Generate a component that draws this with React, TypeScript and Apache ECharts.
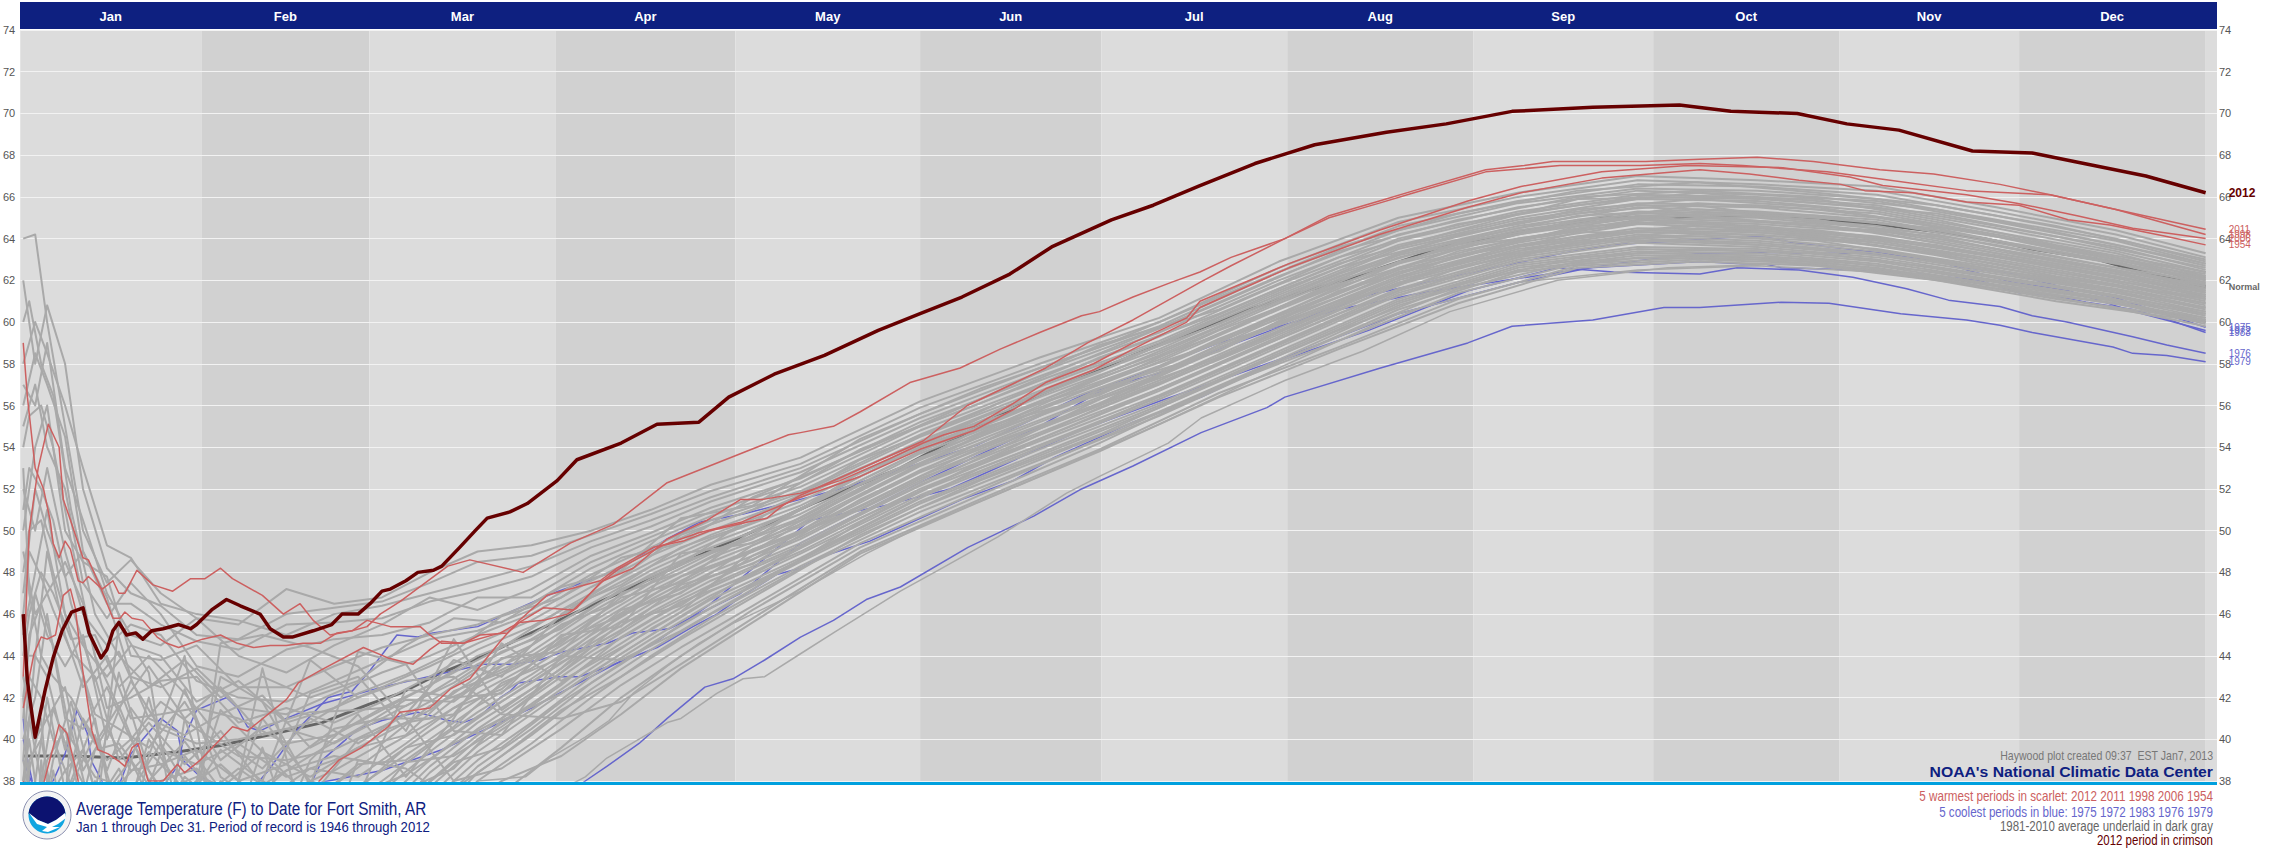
import React, { useEffect, useRef } from "react";
import * as echarts from "echarts";

const months = ["Jan","Feb","Mar","Apr","May","Jun","Jul","Aug","Sep","Oct","Nov","Dec"];
// Month band edges in day-of-year units, as drawn in the picture
const monthEdges = [-0.5,29.8,57.9,89.0,119.1,150,180.3,211.4,242.5,272.6,303.7,333.8,364.9];
const X_MIN = -0.5, X_MAX = 366.9;
const yTicks = { min: 38, max: 74, step: 2 };

const normalAvg = [[0,39.2],[8,39.2],[17,39.1],[26,39.4],[33,39.7],[41,40.2],[50,40.8],[58,41.7],[63,42.2],[70,43.2],[77,44],[85,45.1],[92.6,46.1],[102,47.3],[113,48.8],[121.6,49.9],[132,51.3],[146.7,53],[154.5,54.2],[169,56.4],[185.6,58.4],[204,60.5],[213.5,61.4],[222,62.1],[238.6,63.7],[264,65],[279,65],[294,65.1],[300,64.9],[311,64.65],[319.5,64.35],[328,64],[336,63.5],[347,63],[353,62.5],[365,61.7]];

const crimson2012 = [[0,46],[0.7,42.8],[2,40.1],[3.7,42.4],[5,43.9],[6.5,45.2],[8.1,46.1],[10,46.3],[11,45.1],[13,43.9],[14,44.3],[15,45.2],[16,45.6],[17.3,45],[18.8,45.1],[20,44.8],[21.5,45.2],[23.4,45.3],[26,45.5],[28,45.3],[29,45.5],[31.5,46.2],[34,46.7],[36.3,46.4],[39.6,46],[41.3,45.3],[43.5,44.9],[45,44.9],[48.5,45.2],[51.6,45.5],[53.3,46],[56,46],[58,46.5],[60,47.1],[61.4,47.2],[64,47.6],[66,48],[68.6,48.1],[70,48.3],[73,49.2],[75.6,50],[77.6,50.6],[81.4,50.9],[84.3,51.3],[89.3,52.4],[92.6,53.4],[100,54.2],[106,55.1],[113,55.2],[118,56.4],[125.6,57.5],[134,58.4],[143,59.6],[150,60.4],[157,61.2],[165,62.3],[172,63.6],[182,64.9],[189,65.6],[196.5,66.5],[206,67.6],[216,68.5],[228,69.1],[238,69.5],[249,70.1],[262.5,70.3],[277,70.4],[285.6,70.1],[296.7,70],[305,69.5],[313.7,69.2],[326,68.2],[336,68.1],[343,67.7],[355,67],[365,66.2]];

const red2011 = [[0,43],[1,50],[2.5,53],[4.2,55.1],[6,54],[6.7,51.5],[7.9,50.5],[10,48.7],[10.9,48.6],[12.9,47.3],[15,45.8],[16.2,45.8],[17,46.1],[18.2,45.8],[20,45.7],[22.4,44.9],[24,44.6],[26,44.4],[28,44.6],[30,44.8],[33,45],[35.8,44.6],[38.5,44.4],[41.3,44.5],[44,44.5],[46.8,44.6],[49.7,44.6],[52.5,45.1],[55,45.2],[57.5,45.4],[59.7,46],[63,46.6],[71,48.3],[74.7,48.6],[83.6,48],[91.5,49.4],[98.7,50.3],[107.7,52.3],[128,54.6],[130,54.7],[135.5,55],[140,55.7],[148.3,57.1],[156.7,57.8],[163.4,58.7],[170,59.5],[177,60.3],[180,60.5],[185.6,61.2],[192,61.9],[196.8,62.4],[202,63.1],[211,64],[218.4,65.1],[226.8,65.8],[232.6,66.3],[244.6,67.3],[251,67.5],[255.8,67.7],[271.4,67.7],[280.4,67.8],[290,67.9],[299.4,67.7],[310.5,67.3],[319.5,67.1],[330.6,66.6],[339,66.1],[350,65.4],[365,64.45]];
const red1998 = [[0,38],[1,34],[2,36],[3.7,38.2],[6,40.7],[7.3,40.3],[8.7,38.7],[9.2,38],[12,35],[30,33],[49,37.5],[49.5,38],[52.8,39],[56.6,39.6],[61,40.6],[63,41.3],[68,41.5],[71.4,42.4],[74.7,42.9],[79.8,44.7],[82.6,45.6],[87.6,46.9],[96.5,47.6],[99.3,48.2],[105.4,49.2],[110.4,49.5],[114.9,50],[121,50.4],[124.4,50.6],[127,51.2],[130,51.7],[150.5,54.3],[157.9,56],[164.5,56.9],[171,57.8],[178,59],[185.6,60.1],[196.8,61.9],[202,62.7],[211,64],[218.4,65],[226.8,65.7],[232.6,66.2],[244.6,67.2],[257,67.5],[270.4,67.5],[280.4,67.6],[287.6,67.5],[301.7,67.2],[311,66.85],[325,66.3],[339,66.1],[350,65.4],[365,64.2]];
const red2006 = [[0,41.5],[1.8,44.1],[3,44.9],[4,44.8],[5.4,45],[6.7,46.9],[7.9,47.2],[8.7,46.3],[9.9,43.4],[11.5,40.4],[12.5,39.5],[14.2,39.3],[16.2,38.9],[17,38.7],[18.2,39.6],[19.2,39.8],[20.9,38],[23.4,38],[25.8,38.8],[27,38.4],[29.6,39],[35,40.6],[37.5,40.4],[41.8,41.4],[44,41.9],[46,42.7],[49.7,43.3],[56.9,44.4],[61,43.9],[65.2,43.6],[68,44.3],[70,44.7],[73.6,44.6],[79.8,45.1],[83,45.6],[87,46.3],[92,46.2],[97,47.6],[102,48.2],[107.7,49.6],[114.4,50.5],[120,51.5],[123.7,51.5],[130,51.8],[136.6,52.4],[144.5,53.4],[150.5,54.2],[154,54.6],[159,55],[165.6,56.1],[171,57.1],[179,58],[185.6,59],[194.6,60.2],[196.8,61],[211.7,62.8],[226.8,64.4],[241.6,65.8],[250.5,66.5],[264,67.2],[278.3,67.5],[294.3,67.4],[305.5,66.95],[311,66.55],[325,66.1],[333.4,65.7],[343.5,65.1],[352.8,64.5],[365,64]];
const red1954 = [[0,59],[0.7,56.4],[2,53],[3.4,52],[4.5,50.5],[5,49.4],[6,48.7],[7,49.5],[7.9,49.1],[9.2,47.6],[10,47.5],[10.9,47.8],[13.2,47.2],[15,47.6],[16,47],[17,47],[19,48.1],[21.7,47.4],[25,47.1],[28,47.7],[30.4,47.7],[33,48.2],[35,47.7],[40,46.9],[43.5,46],[46.3,46.5],[48.5,45.7],[51.3,45],[55,45.2],[57.5,45.7],[61.4,45.4],[66.4,45.4],[68,45],[70,44.6],[73.6,44.6],[76.4,45],[81,45.1],[83,45.6],[87,45.7],[91,46],[92.6,46.3],[96.5,47.5],[99.8,48.2],[103,48.7],[107,49.3],[113,49.9],[120,50.4],[130,51.6],[140,52.6],[150,53.9],[159,54.8],[165.6,55.8],[171,56.8],[179,57.7],[185.6,58.7],[194.6,60],[196.8,60.7],[211.7,62.6],[226.8,64.2],[241.6,65.5],[250.5,66.2],[264,66.9],[280.4,67.3],[288.7,67.1],[297,66.8],[304,66.6],[308,66.3],[316,66.2],[325,65.75],[333.8,65.6],[342,64.9],[349,64.65],[358.5,64.1],[365,63.7]];

const blue1975 = [[0,38],[20,35],[38,37.5],[41,38.5],[46,40.5],[51,42],[55,42.3],[58,43.3],[62.5,45],[66,44.9],[68.5,45.1],[76,45.4],[81.5,46.1],[88.6,47],[99.3,48.1],[107.7,49.6],[113,50.4],[120.4,50.8],[130,51.5],[136.6,52],[159.5,54.1],[167,55.1],[178,56.6],[193,57.8],[201,58.8],[225,61.3],[246,62.6],[257.4,63.3],[265.5,63.7],[277.4,63.9],[287.6,64.1],[291,64.1],[296,63.8],[305,63.5],[311,63.3],[318.4,63],[325,62.6],[332.8,62.3],[340.6,61.7],[349.5,61.2],[365,59.75]];
const blue1972 = [[0,40],[3,36],[20,36],[24,38],[25.8,38.7],[26.8,40],[29,41.4],[34,42],[35.8,41.5],[37.5,40.6],[39.6,40.4],[44,41],[50,41.7],[60,42.5],[77,43.6],[82,43.6],[86.5,43.8],[90.3,44.2],[97.7,44.6],[102,45.1],[108,45.3],[120,47],[130,49.4],[150,52.3],[170,55],[182,57],[200,59],[220,60.6],[234,61.4],[262,62.6],[269,62.9],[280.4,63.3],[291,63.35],[298,63.3],[307.5,63.3],[318.4,63.1],[325,62.5],[332.8,61.9],[342,61.5],[347,61.05],[353,60.5],[365,59.6]];
const blue1983 = [[0,39],[2,37.5],[5,38],[7,39.3],[9,41.4],[10.7,40.3],[11.5,38.9],[15,37],[18,39.3],[20,40],[23,41],[25.8,40.4],[26.7,39],[29.6,38.2],[35,37.5],[42,37.5],[60,38.5],[70,39.5],[85,41.5],[95,43],[105,44.5],[115,46.5],[131.6,50.5],[144,51.2],[155,52],[176.7,54.8],[190,56.2],[210,58.2],[230,60.4],[250,61.9],[262,62.6],[280.4,62.9],[287.6,62.8],[291,62.8],[294,62.6],[307,62.5],[317,62.3],[327,62],[333.8,61.4],[338.8,61.3],[345,60.95],[352.8,60.6],[359,60.1],[365,59.5]];
const blue1976 = [[0,41],[1,38],[3,36],[6,35],[20,34],[40,33],[50,39],[56,40.5],[60,40.9],[66,41.3],[71,40.9],[73.6,40.8],[76.4,41.1],[79.8,42],[81.4,42.3],[82.8,42.7],[89.8,43],[93,43],[98,43.5],[106,44.4],[112,45.4],[116,46],[120.4,46.9],[126,47.9],[130,48.2],[134,48.8],[141.6,49.5],[147,50.2],[157,51.5],[165.6,52.4],[172.4,53.5],[185.6,55.2],[197,56.4],[208.7,58],[225,59.6],[241.6,61.5],[256.6,62.6],[266,62.4],[280.4,62.3],[286.6,62.6],[297,62.5],[306,62.15],[315,61.6],[322,61.05],[330.6,60.75],[336,60.3],[341.8,60],[352.8,59.3],[358.5,58.9],[365,58.5]];
const blue1979 = [[0,36],[10,33],[60,32],[85,36],[94,38],[97.6,38.7],[103,39.8],[107.7,41],[114,42.5],[118.7,42.9],[124,43.8],[130,44.9],[135.5,45.7],[141,46.7],[146.7,47.3],[158,49.2],[169,50.7],[177,52],[185.6,53.1],[197,54.7],[208,55.9],[211,56.4],[227,57.8],[241.6,59],[249,59.8],[262.5,60.1],[274.4,60.7],[280.4,60.7],[294,60.95],[302,60.9],[314,60.4],[325,60.1],[330.6,59.85],[336,59.5],[349.5,58.8],[352.8,58.5],[358.5,58.4],[365,58.1]];

// Days at which the gray yearly lines were read
const grayDays = [0,2,4,7,10,14,18,23,29,36,44,52,60,68,76,85,95,105,115,130,150,170,190,210,230,250,270,290,310,330,350,365];
const grayRuns = [
[64,64.2,60,55,50,47.5,48.6,47,45.8,45.5,47.2,46.5,46.8,48,49,49.3,50,51,52.2,53.5,56.2,58.3,60.2,62.9,65,66.2,67,66.8,66.5,65.5,64.4,63.3],
[62,58,60.8,58,52,48.2,47,46.4,45,44.8,46,46.3,46.6,47.5,48.5,48.8,49.8,50.8,51.9,53.2,55.9,58,60,62.6,64.8,66,66.8,66.6,66.3,65.3,64.2,63.1],
[58,60,58.5,56,53,49.3,48.7,46.5,46,45.7,45,46,46.4,47,47.6,48.3,49.5,50.5,51.6,53,55.6,57.8,59.8,62.4,64.6,65.8,66.6,66.5,66.1,65.1,64,62.9],
[56,58.5,57,54.5,49,46.5,46.5,45.5,44.7,44.3,45.5,45.6,45.8,46.6,47.1,47.8,49.2,50.2,51.4,52.8,55.4,57.6,59.7,62.2,64.4,65.7,66.4,66.3,65.9,64.9,63.9,62.8],
[57,56,59,53,50.5,47,45,44.5,45.8,44,43.2,44.5,45.5,46.8,46.2,47.2,48.8,49.9,51.1,52.5,55.2,57.4,59.5,62,64.2,65.5,66.3,66.1,65.8,64.8,63.7,62.7],
[55,57,54,52,47.5,45.8,47.5,46,43.5,43,44.3,44.8,45,45.6,46.8,46.8,48.5,49.7,50.9,52.3,55,57.2,59.3,61.8,64,65.3,66.1,66,65.6,64.6,63.6,62.5],
[50,54,56,50,48.5,47.8,44,43.8,44.5,42.5,42.5,43.5,44.4,45,45.5,46.5,48.2,49.5,50.7,52.1,54.8,57,59.1,61.6,63.9,65.2,66,65.9,65.5,64.5,63.4,62.4],
[52,50,53,49,46,44.5,45.5,45,42.8,42,41.8,42.8,43.8,44.8,45.2,46.2,47.9,49.2,50.5,51.9,54.6,56.9,59,61.5,63.7,65,65.9,65.8,65.3,64.3,63.3,62.2],
[47,52,50,47.8,49,46.8,43,42.5,43.4,41.5,41.2,42.2,43.2,44,45,46,47.6,49,50.3,51.8,54.5,56.7,58.9,61.3,63.6,64.9,65.7,65.6,65.2,64.2,63.1,62.1],
[45,48,51,46,44.5,43,44.5,44,41.8,42.8,40.8,41.5,42.5,43.5,44.6,45.7,47.3,48.8,50,51.6,54.3,56.6,58.7,61.2,63.5,64.8,65.6,65.5,65,64.1,63,62],
[49,46,47,48.5,46.5,41.5,42,42.8,43,40.8,41.5,40.8,41.8,43,44.3,45.4,47,48.5,49.8,51.4,54.1,56.4,58.5,61,63.3,64.6,65.5,65.3,64.9,63.9,62.9,61.9],
[44,44,49,45,42.5,44,41,41.2,41.5,41,39.8,40.2,41.5,42.6,44,45,46.8,48.3,49.6,51.2,54,56.2,58.4,60.9,63.2,64.5,65.3,65.2,64.8,63.8,62.8,61.8],
[42,47,45,43.5,45,40,42.8,40.5,39.8,40,40.5,39.8,41,42.2,43.6,44.8,46.5,48.1,49.4,51,53.8,56.1,58.2,60.7,63.1,64.4,65.2,65.1,64.6,63.7,62.6,61.7],
[40,42,46,41,40.5,42.5,40,41.8,40.5,39.2,39,39.5,40.6,41.8,43.3,44.5,46.3,47.9,49.2,50.8,53.7,55.9,58.1,60.6,62.9,64.3,65.1,65,64.5,63.5,62.5,61.6],
[38,44,43,39.5,43,38.5,41.5,39.5,38.8,39.8,38.2,39,40.2,41.4,43,44.2,46.1,47.7,49,50.6,53.5,55.8,57.9,60.4,62.8,64.2,65,64.8,64.4,63.4,62.4,61.5],
[43,40,41,42.5,38.5,40.5,38.5,38.8,39.5,38,38.8,40.5,41,41,42.8,44,45.8,47.5,48.9,50.5,53.4,55.6,57.8,60.3,62.6,64,64.9,64.7,64.3,63.3,62.3,61.4],
[36,38,42,37.5,41,39,40,37.5,38.2,37.5,37.5,38.5,39.8,41.6,42.5,43.8,45.6,47.3,48.7,50.3,53.2,55.5,57.6,60.2,62.5,63.9,64.8,64.6,64.1,63.2,62.2,61.3],
[39,36,39,40.5,36.5,37,37.5,39.8,37,38.6,37,37.8,39.5,40.8,42.2,43.6,45.4,47.1,48.5,50.2,53.1,55.3,57.5,60,62.4,63.8,64.7,64.5,64,63.1,62.1,61.2],
[35,34,37,38.5,39.5,35.5,36,38,38.6,36.5,38.5,39.2,38.8,40.4,41.9,43.4,45.2,46.9,48.3,50,52.9,55.2,57.4,59.9,62.2,63.7,64.5,64.4,63.9,63,62,61.1],
[32,37,35,36,37.5,37.5,39,36,36.5,37.8,36,37,38.5,40,41.6,43.1,45,46.7,48.2,49.9,52.8,55,57.2,59.7,62.1,63.6,64.4,64.3,63.8,62.9,61.9,61],
[37,33,33,35,34,36,34.5,37,35.5,35,37,36.5,38,39.7,41.3,42.9,44.8,46.5,48,49.7,52.6,54.9,57.1,59.6,62,63.5,64.3,64.2,63.7,62.8,61.8,60.9],
[30,35,36,33,35.5,33,35.5,34.5,37,36,34.5,36,37.5,39.4,41.1,42.7,44.6,46.3,47.8,49.6,52.5,54.7,57,59.5,61.9,63.4,64.2,64,63.5,62.6,61.7,60.8],
[34,31,38,37,32,34.5,33,35.5,34,34,35.5,35,37,39,40.8,42.4,44.4,46.1,47.6,49.4,52.3,54.6,56.8,59.3,61.8,63.3,64.1,63.9,63.4,62.5,61.6,60.7],
[28,30,32,34,36,32,36.5,33,33.5,35.5,33,34,36.5,38.7,40.5,42.2,44.2,46,47.4,49.3,52.2,54.4,56.7,59.2,61.6,63.2,64,63.8,63.3,62.4,61.5,60.6],
[33,29,34,31,33,34,32,34,35,33,34.2,33.5,36,38.4,40.2,42,44,45.7,47.3,49.2,52,54.3,56.5,59,61.5,63.1,63.9,63.7,63.2,62.3,61.4,60.5],
[31,33,30,32,30.5,31,33.5,31.5,32,34.5,32,35,35.5,38,40,41.7,43.7,45.5,47.1,49,51.9,54.1,56.4,58.9,61.4,63,63.8,63.6,63.1,62.2,61.3,60.4],
[27,28,31,29,31,30,31,32.5,33,32,33.5,32.5,35,37.7,39.7,41.4,43.4,45.3,46.9,48.9,51.7,54,56.3,58.8,61.3,62.9,63.6,63.5,63,62.1,61.2,60.3],
[29,32,29,30,28,32.5,30,30.5,31,33,31,33,34.5,37.3,39.4,41.2,43.2,45,46.7,48.7,51.6,53.9,56.1,58.6,61.1,62.8,63.5,63.4,62.9,62,61.1,60.2],
[26,27,28,27,29.5,29,32,29.5,30,31,32.5,32,34,37,39,40.8,43,44.8,46.5,48.6,51.4,53.7,56,58.5,61,62.7,63.4,63.3,62.8,61.9,61,60.1],
[30,26,27,28,27,28,29,31,32,30,30.5,31.5,33.5,36.5,38.7,40.5,42.7,44.6,46.3,48.5,51.3,53.6,55.9,58.4,60.9,62.6,63.3,63.2,62.7,61.8,61,60],
[25,29,26,26,28.5,30,28,28,29,32,29.5,31,33,36,38.4,40.2,42.4,44.3,46,48.3,51.1,53.4,55.7,58.2,60.8,62.5,63.2,63.1,62.6,61.7,60.9,60],
[24,25,30,25,26,27,30,27,31,29,31.5,30,32.5,35.5,38,39.8,42,44,45.8,48.2,50.9,53.2,55.5,58.1,60.6,62.4,63.1,63,62.5,61.6,60.9,59.9],
];
const grayDaysB = [0,1,3,5,8,12,16,21,27,33,40,48,56,64,72,80,90,100,110,122,140,160,180,200,220,240,260,280,300,320,340,365];
const grayRunsB = [
[60,61,58,56.5,51,46,44,42.5,43.8,42,43,42,42.8,44.5,45.8,45.6,47.3,48.1,50.6,51.2,54.4,56.8,58.8,61.2,63.6,65.2,66.3,66.7,66.2,65.6,64.6,63],
[54,55.5,56,54,49.5,44,41.5,43.5,41,42.5,40.2,40.8,42.2,43.1,44.2,45.9,46.8,48.7,49.4,51.6,53.8,56.3,58.9,60.6,63.1,64.7,65.6,66.2,65.7,65.2,64.1,62.6],
[51,53,52,50.5,46.5,42.8,44.2,41,40.2,41.2,42.1,39.6,40.8,42,43.2,44.4,46.2,47.4,49.2,50.4,53.4,55.7,58.3,60.4,62.8,64.4,65.9,66,65.9,64.9,63.7,62.4],
[48,50,50.5,48,45,41.2,40.5,39.6,41.8,39,40.6,41.3,41.4,41.6,42.7,44.2,45.3,47.2,48.4,50.7,53,55.4,57.8,59.9,62.3,64.2,65.2,65.7,65.4,64.7,63.5,62.2],
[46,49,47.8,46.2,44.2,43,39,40.8,38.8,40.4,37.8,39.2,40.5,41.9,41.8,43.5,45.5,46.6,48.5,49.6,52.8,55,57.4,59.8,62.2,63.9,65.1,65.4,65.1,64.4,63.4,62],
[53,47,44,43,42,39.8,41.6,38,39.9,37.6,39.4,38.2,39.6,40.2,42.3,43.2,44.6,46.8,47.5,50,52.4,55.2,57,59.6,61.8,63.8,64.8,65.6,64.8,64.2,63.1,61.9],
[41,45,46.5,44.5,40,38.2,37.8,39.4,37.6,38.8,37,38.6,38.2,39.8,41.5,42.4,44.8,45.9,47.8,49,52,54.5,57.1,59,61.7,63.5,64.9,65.1,64.6,64.1,62.9,61.8],
[39,43,42,40,37.8,40.2,36.5,37,36.8,39.5,38,36.9,38.8,39,40.6,42.7,43.9,46.2,47,49.3,51.9,54.9,56.5,59.2,61.4,63.6,64.4,65,64.7,63.8,62.8,61.6],
[37,41,38,41.5,39,36.8,38.6,35.5,38.2,36.8,36.2,37.4,37.6,39.6,40.2,41.8,43.7,45.2,47.4,48.4,51.5,54.2,56.8,58.6,61.5,63.1,64.6,64.8,64.3,63.6,62.7,61.4],
[35,39,40,37,36,38,35.8,36.8,35.2,38,35.5,36,37.4,38.3,39.8,41,43.2,45.6,46.4,48.8,51.2,54,56.1,58.9,61,63.2,64.1,64.6,64.2,63.4,62.4,61.3],
[33,36,35,38.5,34.5,35,37.2,34.2,36.4,35,37,35.4,36.2,38.9,39.2,40.6,42.6,44.9,46.6,47.9,50.8,53.5,56.3,58.3,60.8,62.9,64.3,64.3,64,63.3,62.2,61.1],
[31,34,37,33.5,36.5,33.2,34,35.8,33.4,36.2,34,36.8,35.8,37.6,38.6,40.9,42.2,44.1,45.9,48,50.6,53.2,55.6,58,60.4,62.6,63.8,64.2,63.9,63,62,60.9],
[29,32,33,35.5,32,34.2,31.5,33,34.8,32.5,35,34,35,37,38.9,39.6,41.8,43.6,45.5,47.4,50.1,53,55.2,57.7,60.2,62.3,63.9,63.9,63.5,62.9,61.9,60.7],
[44,46,48,47,44.8,45,42.5,44,42.2,40,38.6,41,39.8,41.2,43.8,43,46,47.8,49.8,51,53.9,56.1,58.5,60.9,63.4,64.9,66,66.3,66,65.4,64.3,62.8],
[38,40,36,39,41.8,37.5,43.2,38.5,36,41.4,39.4,37.2,40,40.8,41.2,43.9,44.2,47,48,49.8,52.6,55.4,57.6,60.2,62.6,64.1,65.4,65.9,65.5,64.6,63.6,62.3],
[42,37,34,36.5,38,41,35,40,37.4,35.8,41,38,37.2,42.4,42,42.2,45,45.4,48.9,49.4,52.2,54.7,57.3,59.4,62,63.7,64.7,65.3,65,64.5,63.3,62.1],
[36,30,39,34,35,39.5,39.8,37.8,42.4,38.2,36.8,42.2,43,40.4,44.8,41.4,43.4,46,47.2,48.6,51.7,54.6,56.6,59.1,61.2,63.4,64.5,65.2,64.9,64,63,61.7],
[34,38.5,41,35,33.5,36.2,38,34.8,39.2,37,33.5,39,41.2,38.2,41,44.6,42.8,44.4,46.1,49.1,51,53.8,56,58.8,60.9,62.8,64,64.7,64.4,63.7,62.6,61.5],
[28,33,29,32.5,37,33.8,36.8,42,35.5,43,41.8,37.8,44.2,43.6,40.4,40.2,44,43.8,45.2,47.2,50.4,53.3,55.9,58.2,60.6,62.9,63.7,64.5,64.1,63.2,62.1,61.2],
[26,28,31,37.5,30,37.2,33,39.2,44,34,43.4,34.8,33.6,36.4,37.6,39.2,41.4,43,44.8,46.8,49.8,52.4,54.6,57.2,59.6,61.8,63.1,63.5,63.3,62.6,61.7,60.5],
[32,35,27,30,40.5,35.8,45.5,43.2,33,44.6,45,44.4,43.5,41,38,38.6,40.5,42.6,44.4,46.4,49.4,51.9,54.4,56.9,59.3,61.6,62.9,63.2,63,62.4,61.5,60.4],
[25,27,30,28.5,33,31,29.5,31,30.8,33.6,39.6,33,39,38.6,37,37.4,39.6,42,44,46.2,49.2,51.7,54.2,56.9,59.1,61.4,62.8,63.1,62.9,62.2,61.3,60.2],
[24,26,28,31,29,32,27.5,36,31.5,30,38,43.8,42,42.8,43,41.2,41,41.8,43.6,45.8,49,51.5,53.9,56.6,58.8,61.1,62.7,63,62.8,62.1,61.1,60.1],
[23,24,26,27,31.5,29,34.8,30,41,36,37.2,30.5,31.5,34.5,36.5,38,39.2,41.2,43.4,45.6,48.9,51.4,53.8,56.4,58.7,60.9,62.6,62.9,62.7,62,61,60],
];
const grayLow1 = [[60,33],[94,38.2],[97.6,39.1],[107.7,40.8],[110,41],[116,42.2],[120.4,42.9],[124,43],[130,44.1],[135.5,45.1],[146.7,47.1],[153,48.1],[163,49.7],[174.5,51.8],[180,52.6],[191.5,54.2],[197,55.4],[211,57.2],[224,58.6],[238.6,60.5],[256.6,62],[275,62.6],[296,62.8],[320,62.2],[340,61.2],[365,59.8]];
const grayLow2 = [[60,34],[76,38],[84,38.2],[88,39.1],[94,40.1],[98,40.9],[102,42.2],[107.7,43.5],[113,44.6],[119,45.6],[130,47.1],[141,48.9],[150,50.2],[170,52.6],[190,55.1],[210,57.8],[230,60.4],[250,61.9],[270,62.5],[290,62.7],[310,62.4],[330,61.6],[350,60.7],[365,59.8]];

const NAVY = "#0e2080", RED = "#cc6060", BLUE = "#6666cc", GRAY = "#a9a9a9", DARK = "#660000", SLATE = "#666666";
const FONT = '"Liberation Sans", Arial, sans-serif';

function line(name: string, data: number[][], color: string, width: number, label?: any) {
  return {
    type: "line", name, data, showSymbol: false, symbol: "none", z: 3, silent: true,
    lineStyle: { color, width, cap: "butt", join: "round" },
    itemStyle: { color },
    endLabel: label ? { show: true, formatter: "{a}", distance: 23, fontFamily: FONT, ...label } : { show: false },
    emphasis: { disabled: true },
  };
}

const redLabel = { color: RED, fontSize: 10 };
const blueLabel = { color: BLUE, fontSize: 10 };

function bandData() {
  const out: any[] = [];
  months.forEach((m, i) => {
    out.push([
      {
        name: m, xAxis: monthEdges[i],
        itemStyle: { color: i % 2 === 0 ? "#dcdcdc" : "#d1d1d1" },
        label: { show: true, position: "top", distance: 7, color: "#ffffff", fontFamily: FONT, fontWeight: "bold", fontSize: 13 },
      },
      { xAxis: monthEdges[i + 1] },
    ]);
  });
  out.push([
    { name: "", xAxis: monthEdges[12], itemStyle: { color: "#dcdcdc" }, label: { show: false } },
    { xAxis: X_MAX },
  ]);
  return out;
}

function graphics() {
  const t = (text: string, x: number, y: number, font: string, fill: string, scaleX: number, align = "left") => ({
    type: "text", x, y, scaleX, z: 20,
    style: { text, font, fill, textAlign: align, textVerticalAlign: "middle" },
  });
  return [
    { type: "rect", z: 0, shape: { x: 20, y: 2, width: 2197, height: 27 }, style: { fill: NAVY } },
    { type: "rect", z: 20, shape: { x: 20, y: 782, width: 2197, height: 3 }, style: { fill: "#00a0de" } },
    // NOAA logo
    { type: "circle", z: 20, shape: { cx: 47, cy: 815, r: 24 }, style: { fill: "#f4f4f4", stroke: "#8a8fb0", lineWidth: 1 } },
    { type: "circle", z: 20, shape: { cx: 47, cy: 815, r: 18.5 }, style: { fill: "#10a5e0" } },
    { type: "sector", z: 21, shape: { cx: 47, cy: 815, r: 18.5, r0: 0, startAngle: Math.PI * 1.02, endAngle: Math.PI * 1.98 }, style: { fill: "#0c1270" } },
    { type: "polygon", z: 21, shape: { points: [[29, 814], [65, 814], [56, 820], [48, 824], [38, 820]] }, style: { fill: "#0c1270" } },
    { type: "polygon", z: 22, shape: { points: [[29, 813], [38, 820], [48, 824], [56, 820], [65, 813], [66, 818], [58, 824], [52, 827], [60, 827], [48, 832], [42, 831], [47, 827], [37, 824]] }, style: { fill: "#ffffff" } },
    t("NOAA", 47, 807, `bold 8px ${FONT}`, "#ffffff", 1, "center"),
    t("Average Temperature (F) to Date for Fort Smith, AR", 76, 808, `19px ${FONT}`, NAVY, 0.807),
    t("Jan 1 through Dec 31. Period of record is 1946 through 2012", 76, 827, `14px ${FONT}`, NAVY, 0.94),
    t("Haywood plot created 09:37  EST Jan7, 2013", 2213, 756, `12px ${FONT}`, "#777777", 0.88, "right"),
    t("NOAA's National Climatic Data Center", 2213, 772, `bold 15px ${FONT}`, NAVY, 1.05, "right"),
    t("5 warmest periods in scarlet: 2012 2011 1998 2006 1954", 2213, 796, `14px ${FONT}`, RED, 0.835, "right"),
    t("5 coolest periods in blue: 1975 1972 1983 1976 1979", 2213, 812, `14px ${FONT}`, BLUE, 0.83, "right"),
    t("1981-2010 average underlaid in dark gray", 2213, 826, `14px ${FONT}`, SLATE, 0.82, "right"),
    t("2012 period in crimson", 2213, 840, `14px ${FONT}`, DARK, 0.82, "right"),
  ];
}

function buildOption() {
  const axisCommon = {
    type: "value", min: yTicks.min, max: yTicks.max, interval: yTicks.step, z: 2,
    axisLine: { show: false }, axisTick: { show: false },
  };
  const grays = grayRuns.map((vals, i) =>
    line(`g${i}`, vals.map((v, j) => [grayDays[j], v]), GRAY, 2));
  const graysB = grayRunsB.map((vals, i) =>
    line(`h${i}`, vals.map((v, j) => [grayDaysB[j], v]), GRAY, 2));
  return {
    animation: false,
    backgroundColor: "#ffffff",
    grid: { left: 20, top: 30, width: 2197, height: 751 },
    xAxis: { type: "value", min: X_MIN, max: X_MAX, show: false, splitLine: { show: false } },
    yAxis: [
      { ...axisCommon, position: "left", axisLabel: { color: "#555", fontSize: 11, fontFamily: FONT, margin: 5 },
        splitLine: { show: true, lineStyle: { color: "#f2f2f2", width: 1 } } },
      { ...axisCommon, position: "right", axisLabel: { color: "#555", fontSize: 11, fontFamily: FONT, margin: 2 }, splitLine: { show: false } },
    ],
    graphic: { elements: graphics() },
    series: [
      { type: "line", name: "bands", data: [[0, 38]], symbol: "none", silent: true, z: 1,
        lineStyle: { width: 0 },
        markArea: { silent: true, z: 1, data: bandData() } },
      line("Normal", normalAvg, SLATE, 3, { color: SLATE, fontSize: 9, fontWeight: "bold" }),
      line("1975", blue1975, BLUE, 1.5, blueLabel),
      line("1972", blue1972, BLUE, 1.5, blueLabel),
      line("1983", blue1983, BLUE, 1.5, blueLabel),
      line("1976", blue1976, BLUE, 1.5, blueLabel),
      line("1979", blue1979, BLUE, 1.5, blueLabel),
      ...grays,
      ...graysB,
      line("gl1", grayLow1, GRAY, 1.5),
      line("gl2", grayLow2, GRAY, 1.5),
      line("2011", red2011, RED, 1.5, redLabel),
      line("1998", red1998, RED, 1.5, redLabel),
      line("2006", red2006, RED, 1.5, redLabel),
      line("1954", red1954, RED, 1.5, redLabel),
      line("2012", crimson2012, DARK, 3.5, { color: DARK, fontSize: 12, fontWeight: "bold" }),
    ],
  };
}

export default function App() {
  const ref = useRef<HTMLDivElement>(null);
  useEffect(() => {
    const chart = echarts.init(ref.current!, undefined, { renderer: "svg" });
    chart.setOption(buildOption() as any);
    return () => chart.dispose();
  }, []);
  return <div ref={ref} style={{ position: "absolute", left: 0, top: 0, width: 2291, height: 855 }} />;
}
